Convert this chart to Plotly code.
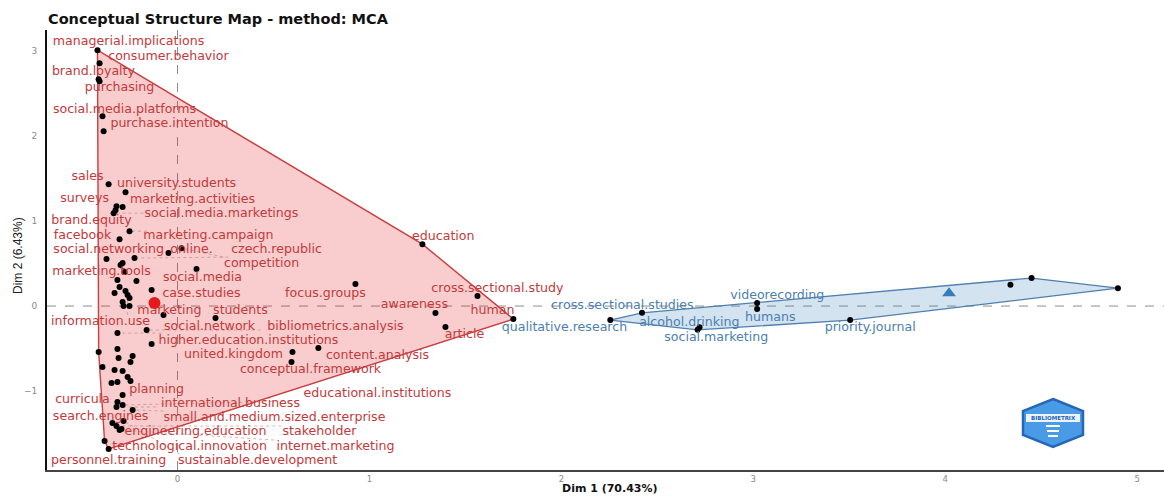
import numpy as np
import plotly.graph_objects as go

# ---- Cluster 1 (red): labelled terms ----
red_terms = [
    "managerial.implications", "consumer.behavior", "brand.loyalty", "purchasing",
    "social.media.platforms", "purchase.intention", "sales", "university.students",
    "surveys", "marketing.activities", "social.media.marketings", "brand.equity",
    "facebook", "marketing.campaign", "social.networking", "online.",
    "czech.republic", "competition", "marketing.tools", "social.media",
    "case.studies", "marketing", "students", "focus.groups",
    "information.use", "social.network", "bibliometrics.analysis",
    "higher.education.institutions", "united.kingdom", "content.analysis",
    "conceptual.framework", "planning", "educational.institutions", "curricula",
    "international.business", "search.engines", "small.and.medium.sized.enterprise",
    "engineering.education", "stakeholder", "technological.innovation",
    "internet.marketing", "personnel.training", "sustainable.development",
    "education", "cross.sectional.study", "awareness", "article", "human",
]
red_dim1 = [
    -0.417, -0.406, -0.411, -0.406, -0.391, -0.385, -0.359, -0.271,
    -0.318, -0.286, -0.333, -0.323, -0.302, -0.250, -0.370, -0.047,
    -0.224, 0.021, -0.276, 0.099, -0.135, -0.073, 0.198, 0.927,
    -0.260, -0.313, -0.161, -0.135, 0.599, 0.734,
    0.594, -0.286, -0.286, -0.313, -0.318, -0.339, -0.234,
    -0.292, -0.318, -0.380, -0.302, -0.359, -0.281,
    1.276, 1.563, 1.344, 1.396, 1.750,
]
red_dim2 = [
    3.012, 2.859, 2.671, 2.647, 2.235, 2.059, 1.435, 1.341,
    1.176, 1.165, 1.094, 1.129, 0.788, 0.882, 0.553, 0.624,
    0.565, 0.682, 0.400, 0.435, 0.188, -0.106, -0.141, 0.259,
    0.129, -0.318, -0.282, -0.447, -0.541, -0.494,
    -0.659, -1.047, -1.165, -1.129, -1.188, -1.376, -1.224,
    -1.447, -1.412, -1.588, -1.459, -1.682, -1.353,
    0.729, 0.118, -0.082, -0.247, -0.153,
]
# where each red label sits (repelled text positions)
red_label_dim1 = [
    -0.255, -0.047, -0.438, -0.302, -0.276, -0.042, -0.469, -0.005,
    -0.484, 0.078, 0.229, -0.448, -0.495, 0.161, -0.359, 0.073,
    0.516, 0.438, -0.396, 0.130, 0.125, -0.042, 0.328, 0.771,
    -0.401, 0.167, 0.823, 0.370, 0.292, 1.042,
    0.693, -0.109, 1.042, -0.495, 0.276, -0.401, 0.505,
    0.094, 0.740, 0.063, 0.823, -0.359, 0.417,
    1.385, 1.667, 1.234, 1.495, 1.641,
]
red_label_dim2 = [
    3.106, 2.929, 2.753, 2.565, 2.306, 2.141, 1.518, 1.435,
    1.259, 1.247, 1.082, 1.000, 0.824, 0.824, 0.659, 0.659,
    0.659, 0.494, 0.400, 0.329, 0.141, -0.059, -0.059, 0.141,
    -0.188, -0.247, -0.247, -0.412, -0.576, -0.588,
    -0.753, -0.988, -1.035, -1.106, -1.153, -1.306, -1.318,
    -1.482, -1.482, -1.659, -1.659, -1.824, -1.824,
    0.812, 0.200, 0.012, -0.341, -0.059,
]
# cluster 1 terms whose labels were dropped
red_extra_dim1 = [
    -0.286, -0.297, -0.313, -0.214, -0.302, -0.328, -0.271, -0.250,
    -0.286, -0.281, -0.250, -0.313, -0.307, -0.234, -0.245, -0.411,
    -0.391, -0.328, -0.286, -0.260, -0.245, -0.344, -0.313,
]
red_extra_dim2 = [
    0.506, 0.482, 0.306, 0.294, 0.224, 0.153, 0.176, 0.094,
    0.047, 0.000, 0.000, -0.506, -0.612, -0.588, -0.659, -0.541,
    -0.718, -0.753, -0.765, -0.835, -0.882, -0.906, -0.894,
]

# ---- Cluster 2 (blue) ----
blue_terms = [
    "qualitative.research", "cross.sectional.studies", "alcohol.drinking",
    "social.marketing", "videorecording", "humans", "priority.journal",
]
blue_dim1 = [2.255, 2.420, 2.720, 2.710, 3.020, 3.020, 3.505]
blue_dim2 = [-0.165, -0.080, -0.250, -0.280, 0.035, -0.035, -0.165]
blue_label_dim1 = [2.016, 2.318, 2.667, 2.807, 3.125, 3.089, 3.609]
blue_label_dim2 = [-0.259, 0.000, -0.200, -0.376, 0.118, -0.141, -0.259]
blue_extra_dim1 = [4.340, 4.450, 4.900]
blue_extra_dim2 = [0.250, 0.330, 0.210]

# cluster centres
centre_dim1 = [-0.12, 4.02]
centre_dim2 = [0.035, 0.15]

X_RANGE = [-0.68, 5.14]
Y_RANGE = [-1.93, 3.25]
W, H = 1164, 496
M_L, M_R, M_T, M_B = 47, 0, 30, 26
PLOT_W = W - M_L - M_R
PLOT_H = H - M_T - M_B
SX = PLOT_W / (X_RANGE[1] - X_RANGE[0])
SY = PLOT_H / (Y_RANGE[1] - Y_RANGE[0])

RED = "#E41A1C"
BLUE = "#377EB8"
RED_TXT = "#c4393b"
BLUE_TXT = "#4b80b3"
FONT = "DejaVu Sans"
LABEL_SIZE = 12.6


def convex_hull(xs, ys):
    pts = sorted(set(zip(xs, ys)))

    def cross(o, a, b):
        return (a[0] - o[0]) * (b[1] - o[1]) * SX * SY - (a[1] - o[1]) * (b[0] - o[0]) * SX * SY

    lower, upper = [], []
    for p in pts:
        while len(lower) >= 2 and cross(lower[-2], lower[-1], p) <= 0:
            lower.pop()
        lower.append(p)
    for p in reversed(pts):
        while len(upper) >= 2 and cross(upper[-2], upper[-1], p) <= 0:
            upper.pop()
        upper.append(p)
    hull = lower[:-1] + upper[:-1]
    hull.append(hull[0])
    return [p[0] for p in hull], [p[1] for p in hull]


def leader_segments(terms, px, py, lx, ly, min_len=14):
    """Segments from the label box edge to its point, in data units."""
    sx, sy = [], []
    for t, x, y, tx, ty in zip(terms, px, py, lx, ly):
        hw = len(t) * 6.6 / 2 + 2
        hh = 7
        dxp = (x - tx) * SX
        dyp = (y - ty) * SY
        cx = min(max(dxp, -hw), hw)
        cy = min(max(dyp, -hh), hh)
        gx, gy = dxp - cx, dyp - cy
        d = (gx ** 2 + gy ** 2) ** 0.5
        if d < min_len:
            continue
        ex = dxp - gx * 3 / d
        ey = dyp - gy * 3 / d
        sx += [tx + cx / SX, tx + ex / SX, None]
        sy += [ty + cy / SY, ty + ey / SY, None]
    return sx, sy


fig = go.Figure()

all_red_x = red_dim1 + red_extra_dim1
all_red_y = red_dim2 + red_extra_dim2
all_blue_x = blue_dim1 + blue_extra_dim1
all_blue_y = blue_dim2 + blue_extra_dim2

hx, hy = convex_hull(all_red_x, all_red_y)
fig.add_trace(go.Scatter(x=hx, y=hy, mode="lines", fill="toself",
                         fillcolor="rgba(228,26,28,0.22)",
                         line=dict(color="#c93e40", width=1.4),
                         hoverinfo="skip", showlegend=False))
hx, hy = convex_hull(all_blue_x, all_blue_y)
fig.add_trace(go.Scatter(x=hx, y=hy, mode="lines", fill="toself",
                         fillcolor="rgba(55,126,184,0.22)",
                         line=dict(color="#4f7fae", width=1.3),
                         hoverinfo="skip", showlegend=False))

# leader lines
sx, sy = leader_segments(red_terms, red_dim1, red_dim2, red_label_dim1, red_label_dim2)
bx, by = leader_segments(blue_terms, blue_dim1, blue_dim2, blue_label_dim1, blue_label_dim2)
fig.add_trace(go.Scatter(x=sx + bx, y=sy + by, mode="lines",
                         line=dict(color="rgba(150,110,110,0.6)", width=0.8, dash="dot"),
                         hoverinfo="skip", showlegend=False))

# term points
fig.add_trace(go.Scatter(x=all_red_x + all_blue_x, y=all_red_y + all_blue_y,
                         mode="markers", marker=dict(color="black", size=6),
                         showlegend=False))

# labels
fig.add_trace(go.Scatter(x=red_label_dim1, y=red_label_dim2, mode="text",
                         text=red_terms, textposition="middle center",
                         textfont=dict(family=FONT, size=LABEL_SIZE, color=RED_TXT),
                         hoverinfo="skip", showlegend=False))
fig.add_trace(go.Scatter(x=blue_label_dim1, y=blue_label_dim2, mode="text",
                         text=blue_terms, textposition="middle center",
                         textfont=dict(family=FONT, size=LABEL_SIZE, color=BLUE_TXT),
                         hoverinfo="skip", showlegend=False))

# cluster centres
fig.add_trace(go.Scatter(x=centre_dim1[:1], y=centre_dim2[:1], mode="markers",
                         marker=dict(color=RED, size=12, symbol="circle"),
                         showlegend=False))
fig.add_trace(go.Scatter(x=centre_dim1[1:], y=centre_dim2[1:], mode="markers",
                         marker=dict(color=BLUE, size=12, symbol="triangle-up"),
                         showlegend=False))

shapes = [
    dict(type="line", xref="x", yref="paper", x0=0, x1=0, y0=0, y1=1,
         line=dict(color="#8c8c8c", width=1, dash="dash"), layer="between"),
    dict(type="line", xref="paper", yref="y", x0=0, x1=1, y0=0, y1=0,
         line=dict(color="#8c8c8c", width=1, dash="dash"), layer="between"),
]

# bibliometrix badge
cxp, cyp = (1053 - M_L) / PLOT_W, (470 - 423) / PLOT_H
hw, hh = 30 / PLOT_W, 24 / PLOT_H
hex_pts = [(cxp, cyp + hh), (cxp + hw, cyp + hh / 2), (cxp + hw, cyp - hh / 2),
           (cxp, cyp - hh), (cxp - hw, cyp - hh / 2), (cxp - hw, cyp + hh / 2)]
path = "M " + " L ".join(f"{a:.5f},{b:.5f}" for a, b in hex_pts) + " Z"
shapes.append(dict(type="path", xref="paper", yref="paper", path=path,
                   fillcolor="#4a9be6", line=dict(color="#2566b8", width=2.5),
                   layer="above"))
shapes.append(dict(type="rect", xref="paper", yref="paper",
                   x0=cxp - hw * 0.9, x1=cxp + hw * 0.9,
                   y0=cyp + 1 / PLOT_H, y1=cyp + 9 / PLOT_H,
                   fillcolor="#eaf4fd", line=dict(width=0), layer="above"))
for k in range(3):
    yy = cyp - (3 + 5 * k) / PLOT_H
    shapes.append(dict(type="line", xref="paper", yref="paper",
                       x0=cxp - (7 - k) / PLOT_W, x1=cxp + (7 - k) / PLOT_W, y0=yy, y1=yy,
                       line=dict(color="white", width=2), layer="above"))

annotations = [
    dict(text="<b>BIBLIOMETRIX</b>", xref="paper", yref="paper",
         x=cxp, y=cyp + 5 / PLOT_H, xanchor="center", yanchor="middle",
         showarrow=False, font=dict(family=FONT, size=5.5, color="#2566b8")),
    dict(text="<b>Dim 1 (70.43%)</b>", xref="paper", yref="paper",
         x=(610 - M_L) / PLOT_W, y=(470 - 488.5) / PLOT_H, xanchor="center", yanchor="middle",
         showarrow=False, font=dict(family=FONT, size=11, color="#111")),
    dict(text="Dim 2 (6.43%)", xref="paper", yref="paper", textangle=-90,
         x=(18 - M_L) / PLOT_W, y=(470 - 256) / PLOT_H, xanchor="center", yanchor="middle",
         showarrow=False, font=dict(family="Liberation Sans Narrow, Liberation Sans", size=12, color="#222")),
]

fig.update_layout(
    width=W, height=H,
    margin=dict(l=M_L, r=M_R, t=M_T, b=M_B),
    paper_bgcolor="white", plot_bgcolor="white",
    title=dict(text="<b>Conceptual Structure Map - method: MCA</b>",
               xref="container", yref="container",
               x=48 / W, xanchor="left", y=1 - 19 / H, yanchor="middle",
               font=dict(family=FONT, size=14.5, color="#111")),
    xaxis=dict(range=X_RANGE, showgrid=False, zeroline=False,
               showline=True, linecolor="#444", linewidth=1.5,
               tickvals=[0, 1, 2, 3, 4, 5], ticks="", ticklabelstandoff=0,
               tickfont=dict(family=FONT, size=8.5, color="#8a8a8a")),
    yaxis=dict(range=Y_RANGE, showgrid=False, zeroline=False,
               showline=True, linecolor="#111", linewidth=2,
               tickvals=[-1, 0, 1, 2, 3], ticks="", ticklabelstandoff=6,
               tickfont=dict(family=FONT, size=9, color="#8a8a8a")),
    shapes=shapes,
    annotations=annotations,
    showlegend=False,
)

fig.write_html("out.html")
